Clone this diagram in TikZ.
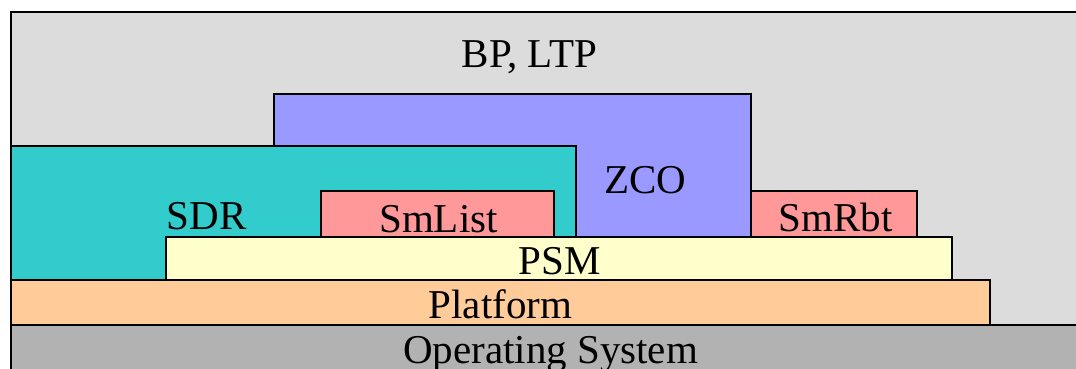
\documentclass[tikz,border=0pt]{standalone}
\usepackage{fontspec}
\setmainfont{Liberation Serif}
\usepackage{xcolor}
\usetikzlibrary{positioning}

\definecolor{bpgray}{HTML}{DCDCDC}
\definecolor{osgray}{HTML}{B2B2B2}
\definecolor{platorange}{HTML}{FFCC99}
\definecolor{psmyellow}{HTML}{FFFFCC}
\definecolor{sdrteal}{HTML}{33CCCC}
\definecolor{zcoblue}{HTML}{9999FF}
\definecolor{smpink}{HTML}{FF9999}

\begin{document}
\begin{tikzpicture}[
  x=1pt, y=-1pt,
  layer/.style={draw=black, line width=1.6pt},
  every node/.style={font=\fontsize{41}{45}\selectfont, inner sep=0pt, anchor=base}
]
\useasboundingbox (0,0) rectangle (1076,369);
\clip (0,0) rectangle (1076,369);
% stack of layers, back to front
\draw[layer, fill=bpgray]     (11,12)  rectangle (1100,400);
\draw[layer, fill=osgray]     (11,325) rectangle (1100,400);
\draw[layer, fill=platorange] (11,280) rectangle (990,325);
\draw[layer, fill=zcoblue]    (274,94) rectangle (751,237);
\draw[layer, fill=sdrteal]    (11,146) rectangle (576,280);
\draw[layer, fill=smpink]     (321,191) rectangle (554,237);
\draw[layer, fill=smpink]     (751,191) rectangle (917,237);
\draw[layer, fill=psmyellow]  (166,237) rectangle (952,280);
% labels
\node (bp)       at (529.5,67)  {BP, LTP};
\node (zco)      at (645,193)   {ZCO};
\node (sdr)      at (206.5,229) {SDR};
\node (smlist)   at (438.5,232) {SmList};
\node (smrbt)    at (835.5,231) {SmRbt};
\node (psm)      at (559.5,274) {PSM};
\node (platform) at (500.5,318) {Platform};
\node (os)       at (550.5,363) {Operating System};
\end{tikzpicture}
\end{document}
